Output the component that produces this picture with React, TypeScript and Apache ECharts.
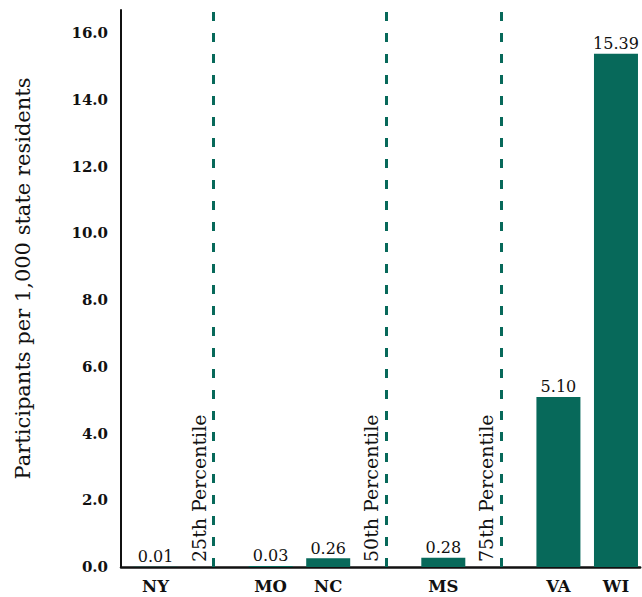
import React, { useEffect, useRef } from "react";
import * as echarts from "echarts";

const slotLabels = ["NY", "", "MO", "NC", "", "MS", "", "VA", "WI"];
const barPositions = [0, 2, 3, 5, 7, 8];
const barValues = [0.01, 0.03, 0.26, 0.28, 5.1, 15.39];
const percentilePositions = [1, 4, 6];
const percentileNames = ["25th Percentile", "50th Percentile", "75th Percentile"];
const yTicks = [0, 2, 4, 6, 8, 10, 12, 14, 16];

const TEAL = "#07695a";
const FONT = "DejaVu Serif";

export default function App() {
  const ref = useRef<HTMLDivElement>(null);
  useEffect(() => {
    if (!ref.current) return;
    const chart = echarts.init(ref.current, null, { renderer: "svg" });
    chart.setOption({
      animation: false,
      grid: { left: 121, right: 0, top: 10, bottom: 30 },
      xAxis: {
        type: "value",
        min: -0.6,
        max: 8.42,
        interval: 0.2,
        splitLine: { show: false },
        axisTick: { show: false },
        axisLine: { show: true, onZero: false, lineStyle: { color: "#111", width: 2.5 } },
        axisLabel: {
          showMinLabel: true,
          showMaxLabel: false,
          margin: 11,
          fontFamily: FONT,
          fontSize: 16.5,
          fontWeight: "bold",
          color: "#111",
          formatter: (v: number) => {
            const i = Math.round(v);
            if (Math.abs(v - i) > 1e-6 || i < 0 || i >= slotLabels.length) return "";
            return slotLabels[i];
          },
        },
      },
      yAxis: {
        type: "value",
        min: 0,
        max: 16.7,
        interval: 2,
        name: "Participants per 1,000 state residents",
        nameLocation: "middle",
        nameGap: 88,
        nameTextStyle: { fontFamily: FONT, fontSize: 21, color: "#111", padding: [0, 0, 0, 20] },
        splitLine: { show: false },
        axisTick: { show: false },
        axisLine: { show: true, onZero: false, lineStyle: { color: "#111", width: 2 } },
        axisLabel: {
          margin: 13,
          fontFamily: FONT,
          fontSize: 15,
          fontWeight: "bold",
          color: "#111",
          formatter: (v: number) => (yTicks.indexOf(v) >= 0 ? v.toFixed(1) : ""),
        },
      },
      series: [
        {
          type: "bar",
          barWidth: 44,
          itemStyle: { color: TEAL },
          data: barPositions.map((p, i) => [p, barValues[i]]),
          label: {
            show: true,
            position: "top",
            distance: 2,
            fontFamily: FONT,
            fontSize: 16,
            color: "#111",
            formatter: (p: any) => Number(p.value[1]).toFixed(2),
          },
          markLine: {
            symbol: "none",
            silent: true,
            lineStyle: { color: TEAL, type: [9, 12], width: 3 },
            label: {
              show: true,
              position: "insideStartTop",
              distance: 5,
              fontFamily: FONT,
              fontSize: 19,
              color: "#111",
              formatter: (p: any) => p.name,
            },
            data: percentilePositions.map((x, i) => ({ xAxis: x, name: percentileNames[i] })),
          },
        },
      ],
    });
    return () => chart.dispose();
  }, []);
  return <div ref={ref} style={{ position: "absolute", left: 0, top: 0, width: 642, height: 597 }} />;
}
